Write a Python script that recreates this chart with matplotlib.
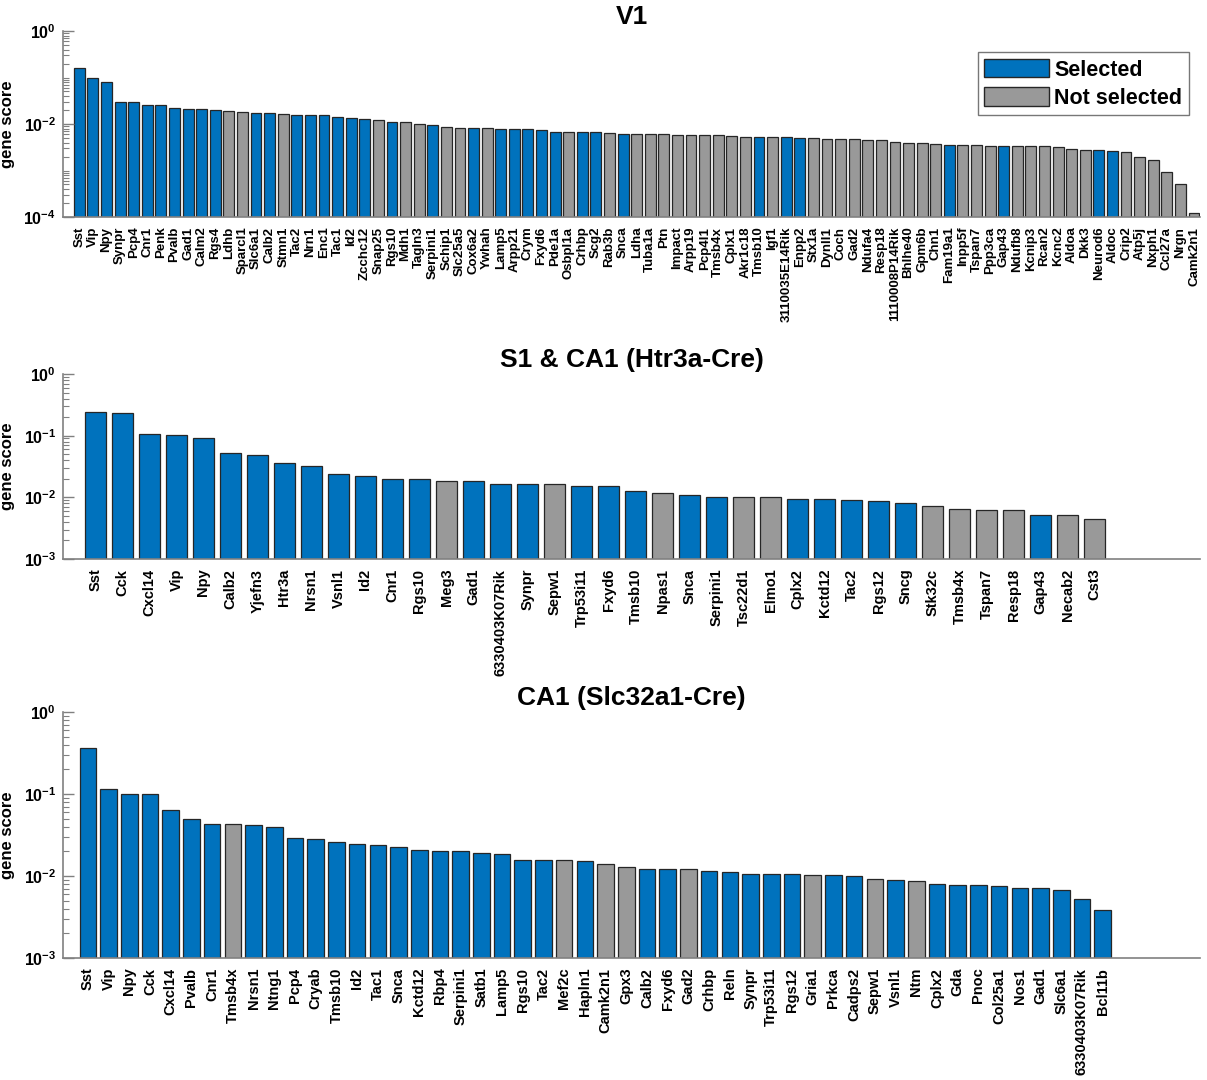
import numpy as np
import matplotlib.pyplot as plt
from matplotlib.patches import Patch
from matplotlib.ticker import LogLocator, NullFormatter

plt.rcParams['font.family'] = ['Liberation Sans', 'DejaVu Sans']
plt.rcParams['mathtext.default'] = 'regular'

BLUE = '#0072BD'
GRAY = '#999999'

# ---- V1 ----
v1_genes = ['Sst', 'Vip', 'Npy', 'Synpr', 'Pcp4', 'Cnr1', 'Penk', 'Pvalb', 'Gad1', 'Calm2',
            'Rgs4', 'Ldhb', 'Sparcl1', 'Slc6a1', 'Calb2', 'Stmn1', 'Tac2', 'Nrn1', 'Enc1', 'Tac1',
            'Id2', 'Zcchc12', 'Snap25', 'Rgs10', 'Mdh1', 'Tagln3', 'Serpini1', 'Schip1', 'Slc25a5',
            'Cox6a2', 'Ywhah', 'Lamp5', 'Arpp21', 'Crym', 'Fxyd6', 'Pde1a', 'Osbpl1a', 'Crhbp',
            'Scg2', 'Rab3b', 'Snca', 'Ldha', 'Tuba1a', 'Ptn', 'Impact', 'Arpp19', 'Pcp4l1',
            'Tmsb4x', 'Cplx1', 'Akr1c18', 'Tmsb10', 'Igf1', '3110035E14Rik', 'Enpp2', 'Stx1a',
            'Dynll1', 'Coch', 'Gad2', 'Ndufa4', 'Resp18', '1110008P14Rik', 'Bhlhe40', 'Gpm6b',
            'Chn1', 'Fam19a1', 'Inpp5f', 'Tspan7', 'Ppp3ca', 'Gap43', 'Ndufb8', 'Kcnip3', 'Rcan2',
            'Kcnc2', 'Aldoa', 'Dkk3', 'Neurod6', 'Aldoc', 'Crip2', 'Atp5j', 'Nxph1', 'Ccl27a',
            'Nrgn', 'Camk2n1']
v1_scores = [0.158, 0.10, 0.081, 0.030, 0.029, 0.026, 0.025, 0.022, 0.021, 0.021,
             0.0197, 0.0187, 0.0185, 0.0173, 0.0173, 0.0164, 0.016, 0.0155, 0.0153, 0.0139,
             0.0137, 0.0126, 0.0124, 0.011, 0.0109, 0.0102, 0.0093, 0.0088, 0.0083,
             0.0083, 0.0081, 0.0080, 0.0079, 0.0078, 0.0075, 0.0068, 0.0068, 0.0068,
             0.0067, 0.0063, 0.0062, 0.0061, 0.0061, 0.0061, 0.0059, 0.0058, 0.0058,
             0.0057, 0.0055, 0.0053, 0.0053, 0.0053, 0.0052, 0.0050, 0.0049,
             0.0048, 0.0048, 0.0048, 0.0045, 0.0045, 0.0041, 0.0040, 0.0040,
             0.0038, 0.0035, 0.0035, 0.0035, 0.0034, 0.0034, 0.0034, 0.0034, 0.0033,
             0.0032, 0.0029, 0.0028, 0.0027, 0.0026, 0.0025, 0.0020, 0.0017, 0.00093,
             0.0005, 0.00012]
v1_selected = [1, 1, 1, 1, 1, 1, 1, 1, 1, 1,
               1, 0, 0, 1, 1, 0, 1, 1, 1, 1,
               1, 1, 0, 1, 0, 0, 1, 0, 0,
               1, 0, 1, 1, 1, 1, 1, 0, 1,
               1, 0, 1, 0, 0, 0, 0, 0, 0,
               0, 0, 0, 1, 0, 1, 1, 0,
               0, 0, 0, 0, 0, 0, 0, 0,
               0, 1, 0, 0, 0, 1, 0, 0, 0,
               0, 0, 0, 1, 1, 0, 0, 0, 0,
               0, 0]

# ---- S1 & CA1 (Htr3a-Cre) ----
htr_genes = ['Sst', 'Cck', 'Cxcl14', 'Vip', 'Npy', 'Calb2', 'Yjefn3', 'Htr3a', 'Nrsn1', 'Vsnl1',
             'Id2', 'Cnr1', 'Rgs10', 'Meg3', 'Gad1', '6330403K07Rik', 'Synpr', 'Sepw1',
             'Trp53i11', 'Fxyd6', 'Tmsb10', 'Npas1', 'Snca', 'Serpini1', 'Tsc22d1', 'Elmo1',
             'Cplx2', 'Kctd12', 'Tac2', 'Rgs12', 'Sncg', 'Stk32c', 'Tmsb4x', 'Tspan7', 'Resp18',
             'Gap43', 'Necab2', 'Cst3']
htr_scores = [0.245, 0.231, 0.108, 0.102, 0.092, 0.053, 0.049, 0.0355, 0.0324, 0.024,
              0.0224, 0.0195, 0.0195, 0.0181, 0.0181, 0.0164, 0.0164, 0.0164,
              0.0151, 0.0151, 0.0126, 0.0119, 0.011, 0.0103, 0.0102, 0.0100,
              0.0095, 0.0095, 0.0092, 0.0086, 0.0082, 0.0072, 0.0065, 0.0063, 0.0063,
              0.0052, 0.0052, 0.0044]
htr_selected = [1, 1, 1, 1, 1, 1, 1, 1, 1, 1,
                1, 1, 1, 0, 1, 1, 1, 0,
                1, 1, 1, 0, 1, 1, 0, 0,
                1, 1, 1, 1, 1, 0, 0, 0, 0,
                1, 0, 0]

# ---- CA1 (Slc32a1-Cre) ----
slc_genes = ['Sst', 'Vip', 'Npy', 'Cck', 'Cxcl14', 'Pvalb', 'Cnr1', 'Tmsb4x', 'Nrsn1', 'Ntng1',
             'Pcp4', 'Cryab', 'Tmsb10', 'Id2', 'Tac1', 'Snca', 'Kctd12', 'Rbp4', 'Serpini1',
             'Satb1', 'Lamp5', 'Rgs10', 'Tac2', 'Mef2c', 'Hapln1', 'Camk2n1', 'Gpx3', 'Calb2',
             'Fxyd6', 'Gad2', 'Crhbp', 'Reln', 'Synpr', 'Trp53i11', 'Rgs12', 'Gria1', 'Prkca',
             'Cadps2', 'Sepw1', 'Vsnl1', 'Ntm', 'Cplx2', 'Gda', 'Pnoc', 'Col25a1', 'Nos1', 'Gad1',
             'Slc6a1', '6330403K07Rik', 'Bcl11b']
slc_scores = [0.364, 0.116, 0.101, 0.099, 0.0638, 0.050, 0.043, 0.043, 0.0423, 0.0393,
              0.029, 0.0283, 0.0258, 0.0244, 0.024, 0.0226, 0.0206, 0.0203, 0.0203,
              0.019, 0.0187, 0.0158, 0.0157, 0.0156, 0.0151, 0.014, 0.0128, 0.0123,
              0.0123, 0.0121, 0.0115, 0.0111, 0.0107, 0.0107, 0.0106, 0.0104, 0.0104,
              0.0101, 0.0091, 0.0090, 0.0088, 0.0080, 0.0078, 0.0078, 0.0076, 0.0072, 0.0071,
              0.0068, 0.0053, 0.0038]
slc_selected = [1, 1, 1, 1, 1, 1, 1, 0, 1, 1,
                1, 1, 1, 1, 1, 1, 1, 1, 1,
                1, 1, 1, 1, 0, 1, 0, 0, 1,
                1, 0, 1, 1, 1, 1, 1, 0, 1,
                1, 0, 1, 0, 1, 1, 1, 1, 1, 1,
                1, 1, 1]


def draw_panel(ax, genes, scores, selected, title, ylo, yticks, xmax, lsize):
    x = np.arange(len(genes))
    colors = [BLUE if s else GRAY for s in selected]
    ax.set_yscale('log')
    ax.bar(x, scores, width=0.8, color=colors, edgecolor='#262626', linewidth=0.9)
    ax.set_ylim(ylo, 1)
    ax.set_xlim(-1.2, xmax)
    ax.set_yticks(yticks)
    ax.yaxis.set_minor_locator(LogLocator(base=10, subs=np.arange(1, 10), numticks=30))
    ax.yaxis.set_minor_formatter(NullFormatter())
    ax.set_xticks(x)
    ax.set_xticklabels(genes, rotation=90, fontsize=lsize, fontweight='bold')
    ax.tick_params(axis='x', length=0, pad=7)
    ax.tick_params(axis='y', which='major', direction='in', length=8, width=1,
                   color='#808080', labelsize=11.5, pad=5)
    ax.tick_params(axis='y', which='minor', direction='in', length=4, width=0.8,
                   color='#808080')
    for lab in ax.get_yticklabels():
        lab.set_fontweight('bold')
    for side in ['top', 'right']:
        ax.spines[side].set_visible(False)
    for side in ['left', 'bottom']:
        ax.spines[side].set_color('#808080')
        ax.spines[side].set_linewidth(1.2)
    ax.set_ylabel('gene score', fontsize=12, fontweight='bold', labelpad=6)
    ax.set_title(title, fontsize=19, fontweight='bold', pad=5)


fig = plt.figure(figsize=(12.07, 10.8), dpi=100)
W, H = 1207.0, 1080.0

ax1 = fig.add_axes([63 / W, 1 - 217 / H, 1137 / W, 186 / H])
draw_panel(ax1, v1_genes, v1_scores, v1_selected, 'V1', 1e-4, [1e-4, 1e-2, 1],
           82.44, 9.5)
handles = [Patch(facecolor=BLUE, edgecolor='#262626', label='Selected'),
           Patch(facecolor=GRAY, edgecolor='#262626', label='Not selected')]
leg = ax1.legend(handles=handles, loc='upper right', bbox_to_anchor=(0.99, 0.885),
                 borderaxespad=0, fancybox=False, edgecolor='#555555',
                 prop={'size': 15.5, 'weight': 'bold'}, handlelength=3.0, handleheight=0.95,
                 handletextpad=0.25, labelspacing=0.3, borderpad=0.3)
leg.get_frame().set_linewidth(1.0)

ax2 = fig.add_axes([63 / W, 1 - 559 / H, 1137 / W, 185 / H])
draw_panel(ax2, htr_genes, htr_scores, htr_selected, 'S1 & CA1 (Htr3a-Cre)', 1e-3,
           [1e-3, 1e-2, 1e-1, 1], 40.9, 10.5)

ax3 = fig.add_axes([63 / W, 1 - 958 / H, 1137 / W, 246 / H])
draw_panel(ax3, slc_genes, slc_scores, slc_selected, 'CA1 (Slc32a1-Cre)', 1e-3,
           [1e-3, 1e-2, 1e-1, 1], 53.7, 10.5)

fig.savefig('out.png', dpi=100)
